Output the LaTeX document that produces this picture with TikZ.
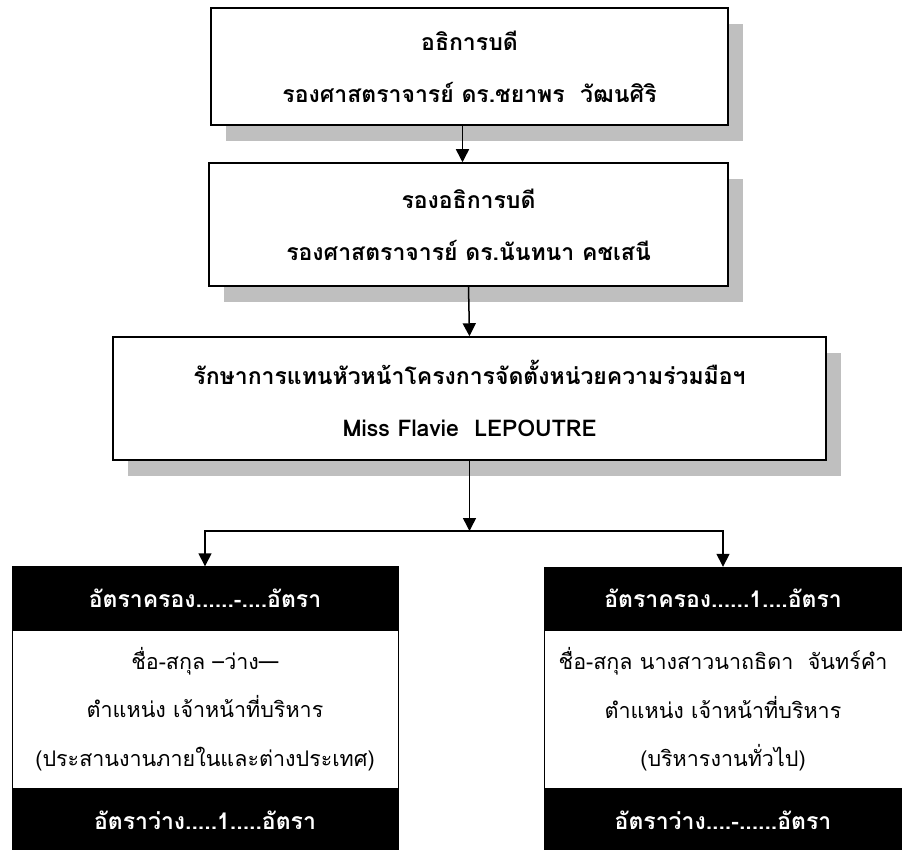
\documentclass[tikz,border=0pt]{standalone}
\usepackage{fontspec}
\setmainfont[Script=Thai]{Loma}
\usetikzlibrary{arrows.meta,positioning,shadows}
\definecolor{shadowgray}{RGB}{191,191,191}

\begin{document}
\begin{tikzpicture}[x=1pt,y=-1pt,>={Triangle[width=13pt,length=13pt]},
 boss/.style={draw,fill=white,line width=1.5pt,align=center,inner sep=0pt,
  font=\fontsize{23}{52}\selectfont\bfseries,
  drop shadow={shadow xshift=15pt,shadow yshift=-16pt,fill=shadowgray,opacity=1}},
 ratebar/.style={draw,fill=black,text=white,minimum height=63pt,inner sep=0pt,
  font=\fontsize{23}{26}\selectfont\bfseries},
 staff/.style={draw,fill=white,minimum height=158pt,align=center,inner sep=0pt,
  font=\fontsize{21.5}{48.5}\selectfont},
 link/.style={->,line width=1.5pt}]
\useasboundingbox (0,0) rectangle (902,850);

\node[boss,minimum width=517pt,minimum height=117pt] (rector) at (469.5,66.5)
 {อธิการบดี\\รองศาสตราจารย์ ดร.ชยาพร\ \ วัฒนศิริ};
\node[boss,minimum width=519pt,minimum height=123pt] (vice) at (468.5,224.5)
 {รองอธิการบดี\\รองศาสตราจารย์ ดร.นันทนา คชเสนี};
\node[boss,minimum width=713pt,minimum height=123pt] (acting) at (469.5,398.5)
 {รักษาการแทนหัวหน้าโครงการจัดตั้งหน่วยความร่วมมือฯ\\Miss Flavie\ \ LEPOUTRE};

% left column
\node[ratebar,minimum width=386pt] (leftHead) at (205,598) {อัตราครอง......-....อัตรา};
\node[staff,minimum width=386pt,below=0pt of leftHead] (leftBody)
 {ชื่อ-สกุล –ว่าง—\\ตำแหน่ง เจ้าหน้าที่บริหาร\\(ประสานงานภายในและต่างประเทศ)};
\node[ratebar,minimum width=386pt,below=0pt of leftBody] (leftFoot) {อัตราว่าง.....1.....อัตรา};

% right column
\node[ratebar,minimum width=358pt] (rightHead) at (723,598.5) {อัตราครอง......1....อัตรา};
\node[staff,minimum width=358pt,below=0pt of rightHead] (rightBody)
 {ชื่อ-สกุล นางสาวนาถธิดา\ \ จันทร์คำ\\ตำแหน่ง เจ้าหน้าที่บริหาร\\(บริหารงานทั่วไป)};
\node[ratebar,minimum width=358pt,below=0pt of rightBody] (rightFoot) {อัตราว่าง....-......อัตรา};

\coordinate (split) at (469.5,531);
\draw[link] ([xshift=-7pt]rector.south) -- ([xshift=-7pt]rector.south |- vice.north);
\draw[link] (vice.south) -- (acting.north);
\draw[link] (acting.south) -- (split);
\draw[link] (split) -| (leftHead.north);
\draw[link] (split) -| (rightHead.north);
\end{tikzpicture}
\end{document}
